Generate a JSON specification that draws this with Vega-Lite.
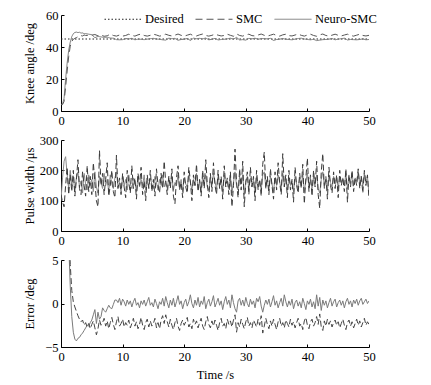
{
"$schema": "https://vega.github.io/schema/vega-lite/v6.json",
"background": "white",
"padding": {"left": 22, "top": 0, "right": 10, "bottom": 5},
"spacing": 29,
"bounds": "flush",
"config": {
  "view": {"stroke": null},
  "font": "Liberation Serif",
  "axis": {"grid": false, "domainColor": "#000", "tickColor": "#000", "tickSize": -3, "labelPadding": 6, "labelFontSize": 12.5, "titleFontSize": 12.5, "labelColor": "#000", "titleColor": "#000", "titleFontWeight": "normal", "labelFont": "Liberation Serif", "titleFont": "Liberation Serif", "labelFlush": false, "labelOverlap": false}
},
"datasets": {
"kd": [{"t":0,"v":45},{"t":50,"v":45}],
"ks": [{"t":0,"v":4},{"t":0.25,"v":4},{"t":0.5,"v":6},{"t":0.75,"v":15},{"t":1,"v":25},{"t":1.25,"v":34},{"t":1.5,"v":40.5},{"t":1.75,"v":43.5},{"t":2,"v":44.8},{"t":2.25,"v":45.4},{"t":2.5,"v":45.9},{"t":2.75,"v":46.4},{"t":3,"v":46.8},{"t":3.25,"v":47.1},{"t":3.5,"v":46.9},{"t":3.75,"v":47.5},{"t":4,"v":47.2},{"t":4.5,"v":47.3},{"t":5,"v":47.4},{"t":5.5,"v":47.8},{"t":6,"v":47.0},{"t":6.5,"v":47.5},{"t":7,"v":46.7},{"t":7.5,"v":47.0},{"t":8,"v":48.0},{"t":8.5,"v":47.2},{"t":9,"v":46.8},{"t":9.5,"v":47.5},{"t":10,"v":46.8},{"t":10.5,"v":47.2},{"t":11,"v":48.0},{"t":11.5,"v":47.3},{"t":12,"v":46.8},{"t":12.5,"v":47.6},{"t":13,"v":48.1},{"t":13.5,"v":47.2},{"t":14,"v":46.8},{"t":14.5,"v":47.3},{"t":15,"v":48.0},{"t":15.5,"v":47.5},{"t":16,"v":46.8},{"t":16.5,"v":47.2},{"t":17,"v":48.0},{"t":17.5,"v":47.3},{"t":18,"v":46.9},{"t":18.5,"v":47.4},{"t":19,"v":48.1},{"t":19.5,"v":47.3},{"t":20,"v":46.8},{"t":20.5,"v":47.4},{"t":21,"v":48.0},{"t":21.5,"v":47.1},{"t":22,"v":46.9},{"t":22.5,"v":47.6},{"t":23,"v":48.1},{"t":23.5,"v":47.2},{"t":24,"v":46.8},{"t":24.5,"v":47.3},{"t":25,"v":48.0},{"t":25.5,"v":47.4},{"t":26,"v":46.9},{"t":26.5,"v":47.2},{"t":27,"v":48.0},{"t":27.5,"v":47.3},{"t":28,"v":46.7},{"t":28.5,"v":48.2},{"t":29,"v":47.2},{"t":29.5,"v":46.8},{"t":30,"v":47.6},{"t":30.5,"v":48.0},{"t":31,"v":47.1},{"t":31.5,"v":46.9},{"t":32,"v":47.5},{"t":32.5,"v":48.1},{"t":33,"v":47.3},{"t":33.5,"v":46.8},{"t":34,"v":47.4},{"t":34.5,"v":48.0},{"t":35,"v":47.2},{"t":35.5,"v":46.8},{"t":36,"v":47.6},{"t":36.5,"v":48.0},{"t":37,"v":47.1},{"t":37.5,"v":46.9},{"t":38,"v":47.5},{"t":38.5,"v":48.1},{"t":39,"v":47.3},{"t":39.5,"v":46.8},{"t":40,"v":47.5},{"t":40.5,"v":48.0},{"t":41,"v":47.2},{"t":41.5,"v":46.7},{"t":42,"v":47.6},{"t":42.5,"v":48.1},{"t":43,"v":47.2},{"t":43.5,"v":46.8},{"t":44,"v":47.4},{"t":44.5,"v":48.0},{"t":45,"v":47.3},{"t":45.5,"v":46.9},{"t":46,"v":47.5},{"t":46.5,"v":48.0},{"t":47,"v":47.2},{"t":47.5,"v":46.8},{"t":48,"v":47.4},{"t":48.5,"v":48.0},{"t":49,"v":47.2},{"t":49.5,"v":46.9},{"t":50,"v":47.3}],
"kn": [{"t":0,"v":4},{"t":0.25,"v":4.5},{"t":0.5,"v":8},{"t":0.75,"v":20},{"t":1,"v":30},{"t":1.25,"v":38},{"t":1.5,"v":43},{"t":1.75,"v":46.5},{"t":2,"v":48.3},{"t":2.25,"v":49.1},{"t":2.5,"v":49.3},{"t":2.75,"v":49.0},{"t":3,"v":49.2},{"t":3.25,"v":48.7},{"t":3.5,"v":48.8},{"t":3.75,"v":48.3},{"t":4,"v":48.4},{"t":4.5,"v":48.0},{"t":5,"v":47.7},{"t":5.5,"v":45.8},{"t":6,"v":46.6},{"t":6.5,"v":46.3},{"t":7,"v":46.0},{"t":7.5,"v":46.1},{"t":8,"v":45.6},{"t":8.5,"v":45.5},{"t":9,"v":44.6},{"t":9.5,"v":44.5},{"t":10,"v":44.6},{"t":10.5,"v":45.3},{"t":11,"v":45.0},{"t":11.5,"v":45.4},{"t":12,"v":44.5},{"t":12.5,"v":44.9},{"t":13,"v":44.8},{"t":13.5,"v":44.6},{"t":14,"v":44.9},{"t":14.5,"v":45.2},{"t":15,"v":45.4},{"t":15.5,"v":45.0},{"t":16,"v":44.8},{"t":16.5,"v":44.5},{"t":17,"v":44.3},{"t":17.5,"v":45.5},{"t":18,"v":45.2},{"t":18.5,"v":45.4},{"t":19,"v":44.2},{"t":19.5,"v":44.7},{"t":20,"v":44.9},{"t":20.5,"v":45.3},{"t":21,"v":44.1},{"t":21.5,"v":45.5},{"t":22,"v":45.2},{"t":22.5,"v":45.4},{"t":23,"v":45.1},{"t":23.5,"v":45.6},{"t":24,"v":44.5},{"t":24.5,"v":44.8},{"t":25,"v":45.4},{"t":25.5,"v":44.4},{"t":26,"v":44.7},{"t":26.5,"v":44.8},{"t":27,"v":45.1},{"t":27.5,"v":45.5},{"t":28,"v":44.9},{"t":28.5,"v":46.0},{"t":29,"v":44.4},{"t":29.5,"v":44.6},{"t":30,"v":44.3},{"t":30.5,"v":45.4},{"t":31,"v":45.1},{"t":31.5,"v":45.5},{"t":32,"v":44.8},{"t":32.5,"v":45.3},{"t":33,"v":45.2},{"t":33.5,"v":45.1},{"t":34,"v":45.4},{"t":34.5,"v":44.1},{"t":35,"v":44.7},{"t":35.5,"v":44.9},{"t":36,"v":45.3},{"t":36.5,"v":44.8},{"t":37,"v":44.7},{"t":37.5,"v":44.5},{"t":38,"v":44.9},{"t":38.5,"v":45.3},{"t":39,"v":45.5},{"t":39.5,"v":45.0},{"t":40,"v":44.7},{"t":40.5,"v":44.5},{"t":41,"v":44.8},{"t":41.5,"v":44.0},{"t":42,"v":44.3},{"t":42.5,"v":44.6},{"t":43,"v":44.7},{"t":43.5,"v":44.9},{"t":44,"v":45.3},{"t":44.5,"v":44.5},{"t":45,"v":44.9},{"t":45.5,"v":45.2},{"t":46,"v":45.5},{"t":46.5,"v":44.4},{"t":47,"v":44.7},{"t":47.5,"v":44.6},{"t":48,"v":44.5},{"t":48.5,"v":44.7},{"t":49,"v":45.1},{"t":49.5,"v":44.5},{"t":50,"v":44.7}],
"ps": [{"t":0,"v":120},{"t":0.25,"v":95},{"t":0.5,"v":80},{"t":0.75,"v":150},{"t":1,"v":210},{"t":1.25,"v":120},{"t":1.5,"v":185},{"t":1.75,"v":130},{"t":2,"v":200},{"t":2.25,"v":115},{"t":2.5,"v":170},{"t":2.75,"v":235},{"t":3,"v":140},{"t":3.25,"v":120},{"t":3.5,"v":195},{"t":3.75,"v":150},{"t":4,"v":115},{"t":4.25,"v":215},{"t":4.5,"v":130},{"t":4.75,"v":180},{"t":5,"v":120},{"t":5.25,"v":225},{"t":5.5,"v":160},{"t":5.75,"v":100},{"t":6,"v":80},{"t":6.25,"v":265},{"t":6.5,"v":150},{"t":6.75,"v":190},{"t":7,"v":120},{"t":7.25,"v":170},{"t":7.5,"v":225},{"t":7.75,"v":115},{"t":8,"v":150},{"t":8.25,"v":200},{"t":8.5,"v":130},{"t":8.75,"v":110},{"t":9,"v":250},{"t":9.25,"v":140},{"t":9.5,"v":175},{"t":9.75,"v":120},{"t":10,"v":190},{"t":10.25,"v":145},{"t":10.5,"v":110},{"t":10.75,"v":200},{"t":11,"v":160},{"t":11.25,"v":125},{"t":11.5,"v":215},{"t":11.75,"v":140},{"t":12,"v":175},{"t":12.25,"v":105},{"t":12.5,"v":190},{"t":12.75,"v":150},{"t":13,"v":210},{"t":13.25,"v":120},{"t":13.5,"v":165},{"t":13.75,"v":100},{"t":14,"v":185},{"t":14.25,"v":140},{"t":14.5,"v":200},{"t":14.75,"v":130},{"t":15,"v":170},{"t":15.25,"v":115},{"t":15.5,"v":205},{"t":15.75,"v":150},{"t":16,"v":125},{"t":16.25,"v":190},{"t":16.5,"v":140},{"t":16.75,"v":230},{"t":17,"v":160},{"t":17.25,"v":120},{"t":17.5,"v":180},{"t":17.75,"v":140},{"t":18,"v":205},{"t":18.25,"v":115},{"t":18.5,"v":90},{"t":18.75,"v":175},{"t":19,"v":215},{"t":19.25,"v":135},{"t":19.5,"v":160},{"t":19.75,"v":110},{"t":20,"v":195},{"t":20.25,"v":145},{"t":20.5,"v":125},{"t":20.75,"v":210},{"t":21,"v":165},{"t":21.25,"v":100},{"t":21.5,"v":185},{"t":21.75,"v":150},{"t":22,"v":220},{"t":22.25,"v":130},{"t":22.5,"v":170},{"t":22.75,"v":115},{"t":23,"v":200},{"t":23.25,"v":140},{"t":23.5,"v":235},{"t":23.75,"v":155},{"t":24,"v":110},{"t":24.25,"v":190},{"t":24.5,"v":130},{"t":24.75,"v":225},{"t":25,"v":150},{"t":25.25,"v":120},{"t":25.5,"v":200},{"t":25.75,"v":140},{"t":26,"v":180},{"t":26.25,"v":105},{"t":26.5,"v":215},{"t":26.75,"v":145},{"t":27,"v":175},{"t":27.25,"v":120},{"t":27.5,"v":195},{"t":27.75,"v":80},{"t":28,"v":150},{"t":28.25,"v":270},{"t":28.5,"v":160},{"t":28.75,"v":110},{"t":29,"v":205},{"t":29.25,"v":135},{"t":29.5,"v":230},{"t":29.75,"v":80},{"t":30,"v":160},{"t":30.25,"v":195},{"t":30.5,"v":120},{"t":30.75,"v":210},{"t":31,"v":145},{"t":31.25,"v":180},{"t":31.5,"v":100},{"t":31.75,"v":200},{"t":32,"v":135},{"t":32.25,"v":170},{"t":32.5,"v":115},{"t":32.75,"v":220},{"t":33,"v":260},{"t":33.25,"v":140},{"t":33.5,"v":180},{"t":33.75,"v":120},{"t":34,"v":205},{"t":34.25,"v":150},{"t":34.5,"v":105},{"t":34.75,"v":195},{"t":35,"v":135},{"t":35.25,"v":225},{"t":35.5,"v":160},{"t":35.75,"v":120},{"t":36,"v":255},{"t":36.25,"v":145},{"t":36.5,"v":185},{"t":36.75,"v":110},{"t":37,"v":200},{"t":37.25,"v":135},{"t":37.5,"v":170},{"t":37.75,"v":95},{"t":38,"v":210},{"t":38.25,"v":150},{"t":38.5,"v":125},{"t":38.75,"v":190},{"t":39,"v":140},{"t":39.25,"v":220},{"t":39.5,"v":90},{"t":39.75,"v":175},{"t":40,"v":240},{"t":40.25,"v":130},{"t":40.5,"v":185},{"t":40.75,"v":115},{"t":41,"v":200},{"t":41.25,"v":145},{"t":41.5,"v":230},{"t":41.75,"v":120},{"t":42,"v":75},{"t":42.25,"v":195},{"t":42.5,"v":255},{"t":42.75,"v":140},{"t":43,"v":180},{"t":43.25,"v":105},{"t":43.5,"v":210},{"t":43.75,"v":150},{"t":44,"v":125},{"t":44.25,"v":195},{"t":44.5,"v":140},{"t":44.75,"v":185},{"t":45,"v":110},{"t":45.25,"v":200},{"t":45.5,"v":150},{"t":45.75,"v":175},{"t":46,"v":130},{"t":46.25,"v":205},{"t":46.5,"v":95},{"t":46.75,"v":185},{"t":47,"v":145},{"t":47.25,"v":200},{"t":47.5,"v":130},{"t":47.75,"v":175},{"t":48,"v":150},{"t":48.25,"v":205},{"t":48.5,"v":140},{"t":48.75,"v":180},{"t":49,"v":125},{"t":49.25,"v":200},{"t":49.5,"v":150},{"t":49.75,"v":185},{"t":50,"v":105}],
"pn": [{"t":0,"v":100},{"t":0.25,"v":175},{"t":0.5,"v":230},{"t":0.75,"v":245},{"t":1,"v":185},{"t":1.25,"v":140},{"t":1.5,"v":200},{"t":1.75,"v":150},{"t":2,"v":180},{"t":2.25,"v":130},{"t":2.5,"v":175},{"t":2.75,"v":195},{"t":3,"v":145},{"t":3.25,"v":165},{"t":3.5,"v":125},{"t":3.75,"v":190},{"t":4,"v":155},{"t":4.25,"v":135},{"t":4.5,"v":185},{"t":4.75,"v":150},{"t":5,"v":170},{"t":5.25,"v":130},{"t":5.5,"v":195},{"t":5.75,"v":145},{"t":6,"v":125},{"t":6.25,"v":180},{"t":6.5,"v":160},{"t":6.75,"v":140},{"t":7,"v":190},{"t":7.25,"v":150},{"t":7.5,"v":170},{"t":7.75,"v":130},{"t":8,"v":185},{"t":8.25,"v":155},{"t":8.5,"v":140},{"t":8.75,"v":175},{"t":9,"v":195},{"t":9.25,"v":145},{"t":9.5,"v":160},{"t":9.75,"v":130},{"t":10,"v":180},{"t":10.25,"v":150},{"t":10.5,"v":170},{"t":10.75,"v":135},{"t":11,"v":185},{"t":11.25,"v":155},{"t":11.5,"v":140},{"t":11.75,"v":175},{"t":12,"v":160},{"t":12.25,"v":130},{"t":12.5,"v":180},{"t":12.75,"v":145},{"t":13,"v":170},{"t":13.25,"v":150},{"t":13.5,"v":185},{"t":13.75,"v":135},{"t":14,"v":165},{"t":14.25,"v":145},{"t":14.5,"v":175},{"t":14.75,"v":155},{"t":15,"v":140},{"t":15.25,"v":180},{"t":15.5,"v":160},{"t":15.75,"v":135},{"t":16,"v":170},{"t":16.25,"v":150},{"t":16.5,"v":185},{"t":16.75,"v":145},{"t":17,"v":165},{"t":17.25,"v":140},{"t":17.5,"v":175},{"t":17.75,"v":155},{"t":18,"v":180},{"t":18.25,"v":135},{"t":18.5,"v":160},{"t":18.75,"v":150},{"t":19,"v":185},{"t":19.25,"v":140},{"t":19.5,"v":170},{"t":19.75,"v":130},{"t":20,"v":175},{"t":20.25,"v":155},{"t":20.5,"v":145},{"t":20.75,"v":185},{"t":21,"v":160},{"t":21.25,"v":135},{"t":21.5,"v":170},{"t":21.75,"v":150},{"t":22,"v":190},{"t":22.25,"v":140},{"t":22.5,"v":165},{"t":22.75,"v":130},{"t":23,"v":180},{"t":23.25,"v":155},{"t":23.5,"v":185},{"t":23.75,"v":145},{"t":24,"v":135},{"t":24.25,"v":175},{"t":24.5,"v":150},{"t":24.75,"v":190},{"t":25,"v":160},{"t":25.25,"v":140},{"t":25.5,"v":180},{"t":25.75,"v":150},{"t":26,"v":170},{"t":26.25,"v":130},{"t":26.5,"v":185},{"t":26.75,"v":155},{"t":27,"v":165},{"t":27.25,"v":140},{"t":27.5,"v":180},{"t":27.75,"v":125},{"t":28,"v":160},{"t":28.25,"v":195},{"t":28.5,"v":150},{"t":28.75,"v":135},{"t":29,"v":180},{"t":29.25,"v":155},{"t":29.5,"v":185},{"t":29.75,"v":120},{"t":30,"v":165},{"t":30.25,"v":180},{"t":30.5,"v":140},{"t":30.75,"v":175},{"t":31,"v":150},{"t":31.25,"v":170},{"t":31.5,"v":130},{"t":31.75,"v":180},{"t":32,"v":150},{"t":32.25,"v":165},{"t":32.5,"v":135},{"t":32.75,"v":185},{"t":33,"v":195},{"t":33.25,"v":145},{"t":33.5,"v":170},{"t":33.75,"v":135},{"t":34,"v":180},{"t":34.25,"v":155},{"t":34.5,"v":130},{"t":34.75,"v":175},{"t":35,"v":150},{"t":35.25,"v":185},{"t":35.5,"v":160},{"t":35.75,"v":140},{"t":36,"v":190},{"t":36.25,"v":150},{"t":36.5,"v":170},{"t":36.75,"v":135},{"t":37,"v":175},{"t":37.25,"v":150},{"t":37.5,"v":165},{"t":37.75,"v":130},{"t":38,"v":180},{"t":38.25,"v":155},{"t":38.5,"v":140},{"t":38.75,"v":175},{"t":39,"v":150},{"t":39.25,"v":185},{"t":39.5,"v":130},{"t":39.75,"v":165},{"t":40,"v":190},{"t":40.25,"v":145},{"t":40.5,"v":170},{"t":40.75,"v":140},{"t":41,"v":180},{"t":41.25,"v":155},{"t":41.5,"v":185},{"t":41.75,"v":140},{"t":42,"v":125},{"t":42.25,"v":170},{"t":42.5,"v":195},{"t":42.75,"v":150},{"t":43,"v":170},{"t":43.25,"v":135},{"t":43.5,"v":185},{"t":43.75,"v":160},{"t":44,"v":145},{"t":44.25,"v":180},{"t":44.5,"v":155},{"t":44.75,"v":175},{"t":45,"v":140},{"t":45.25,"v":180},{"t":45.5,"v":160},{"t":45.75,"v":175},{"t":46,"v":150},{"t":46.25,"v":190},{"t":46.5,"v":140},{"t":46.75,"v":180},{"t":47,"v":160},{"t":47.25,"v":190},{"t":47.5,"v":150},{"t":47.75,"v":175},{"t":48,"v":165},{"t":48.25,"v":195},{"t":48.5,"v":155},{"t":48.75,"v":180},{"t":49,"v":150},{"t":49.25,"v":190},{"t":49.5,"v":160},{"t":49.75,"v":180},{"t":50,"v":120}],
"es": [{"t":0,"v":41},{"t":0.25,"v":41},{"t":0.5,"v":39},{"t":0.75,"v":30},{"t":1,"v":20},{"t":1.25,"v":11},{"t":1.5,"v":4.5},{"t":1.75,"v":1.5},{"t":2,"v":0.2},{"t":2.25,"v":-0.4},{"t":2.5,"v":-0.9},{"t":2.75,"v":-1.4},{"t":3,"v":-1.8},{"t":3.25,"v":-2.1},{"t":3.5,"v":-1.9},{"t":3.75,"v":-2.5},{"t":4,"v":-2.2},{"t":4.25,"v":-2.7},{"t":4.5,"v":-2.3},{"t":4.75,"v":-2.9},{"t":5,"v":-2.4},{"t":5.25,"v":-2.0},{"t":5.5,"v":-2.8},{"t":5.75,"v":-3.6},{"t":6,"v":-2.9},{"t":6.25,"v":-1.9},{"t":6.5,"v":-2.5},{"t":6.75,"v":-2.2},{"t":7,"v":-1.7},{"t":7.25,"v":-2.6},{"t":7.5,"v":-2.0},{"t":7.75,"v":-2.9},{"t":8,"v":-2.2},{"t":8.25,"v":-1.6},{"t":8.5,"v":-2.4},{"t":8.75,"v":-3.0},{"t":9,"v":-2.1},{"t":9.25,"v":-1.5},{"t":9.5,"v":-2.6},{"t":9.75,"v":-2.3},{"t":10,"v":-1.8},{"t":10.25,"v":-2.7},{"t":10.5,"v":-2.2},{"t":10.75,"v":-2.5},{"t":11,"v":-1.9},{"t":11.25,"v":-2.8},{"t":11.5,"v":-2.3},{"t":11.75,"v":-1.7},{"t":12,"v":-2.6},{"t":12.25,"v":-2.1},{"t":12.5,"v":-2.9},{"t":12.75,"v":-2.4},{"t":13,"v":-1.6},{"t":13.25,"v":-2.5},{"t":13.5,"v":-3.0},{"t":13.75,"v":-2.2},{"t":14,"v":-1.8},{"t":14.25,"v":-2.7},{"t":14.5,"v":-2.0},{"t":14.75,"v":-2.6},{"t":15,"v":-2.3},{"t":15.25,"v":-1.7},{"t":15.5,"v":-2.8},{"t":15.75,"v":-2.2},{"t":16,"v":-2.9},{"t":16.25,"v":-1.9},{"t":16.5,"v":-1.4},{"t":16.75,"v":-2.3},{"t":17,"v":-1.3},{"t":17.25,"v":-2.1},{"t":17.5,"v":-2.7},{"t":17.75,"v":-1.8},{"t":18,"v":-2.5},{"t":18.25,"v":-3.0},{"t":18.5,"v":-2.2},{"t":18.75,"v":-1.7},{"t":19,"v":-2.6},{"t":19.25,"v":-3.1},{"t":19.5,"v":-2.3},{"t":19.75,"v":-1.9},{"t":20,"v":-2.5},{"t":20.25,"v":-2.1},{"t":20.5,"v":-1.6},{"t":20.75,"v":-2.7},{"t":21,"v":-2.3},{"t":21.25,"v":-2.9},{"t":21.5,"v":-1.8},{"t":21.75,"v":-2.4},{"t":22,"v":-2.0},{"t":22.25,"v":-2.8},{"t":22.5,"v":-2.2},{"t":22.75,"v":-1.7},{"t":23,"v":-2.6},{"t":23.25,"v":-3.0},{"t":23.5,"v":-2.1},{"t":23.75,"v":-1.5},{"t":24,"v":-2.4},{"t":24.25,"v":-2.8},{"t":24.5,"v":-2.0},{"t":24.75,"v":-2.6},{"t":25,"v":-1.9},{"t":25.25,"v":-2.5},{"t":25.5,"v":-3.1},{"t":25.75,"v":-2.2},{"t":26,"v":-1.7},{"t":26.25,"v":-2.6},{"t":26.5,"v":-2.3},{"t":26.75,"v":-2.9},{"t":27,"v":-1.8},{"t":27.25,"v":-2.4},{"t":27.5,"v":-2.0},{"t":27.75,"v":-2.7},{"t":28,"v":-1.9},{"t":28.25,"v":-1.3},{"t":28.5,"v":-3.3},{"t":28.75,"v":-2.2},{"t":29,"v":-2.7},{"t":29.25,"v":-1.8},{"t":29.5,"v":-2.4},{"t":29.75,"v":-2.9},{"t":30,"v":-2.1},{"t":30.25,"v":-1.6},{"t":30.5,"v":-2.6},{"t":30.75,"v":-2.2},{"t":31,"v":-2.8},{"t":31.25,"v":-1.9},{"t":31.5,"v":-2.3},{"t":31.75,"v":-2.7},{"t":32,"v":-1.8},{"t":32.25,"v":-2.5},{"t":32.5,"v":-1.4},{"t":32.75,"v":-3.4},{"t":33,"v":-2.6},{"t":33.25,"v":-1.7},{"t":33.5,"v":-2.4},{"t":33.75,"v":-2.9},{"t":34,"v":-2.0},{"t":34.25,"v":-2.6},{"t":34.5,"v":-1.8},{"t":34.75,"v":-2.4},{"t":35,"v":-3.0},{"t":35.25,"v":-2.1},{"t":35.5,"v":-1.7},{"t":35.75,"v":-2.6},{"t":36,"v":-2.2},{"t":36.25,"v":-2.8},{"t":36.5,"v":-1.9},{"t":36.75,"v":-2.3},{"t":37,"v":-2.7},{"t":37.25,"v":-1.8},{"t":37.5,"v":-2.5},{"t":37.75,"v":-2.1},{"t":38,"v":-2.8},{"t":38.25,"v":-2.2},{"t":38.5,"v":-1.7},{"t":38.75,"v":-2.6},{"t":39,"v":-2.3},{"t":39.25,"v":-3.0},{"t":39.5,"v":-2.0},{"t":39.75,"v":-1.6},{"t":40,"v":-2.5},{"t":40.25,"v":-2.9},{"t":40.5,"v":-2.1},{"t":40.75,"v":-1.8},{"t":41,"v":-2.6},{"t":41.25,"v":-2.2},{"t":41.5,"v":-1.5},{"t":41.75,"v":-2.4},{"t":42,"v":-1.2},{"t":42.25,"v":-2.7},{"t":42.5,"v":-3.1},{"t":42.75,"v":-2.0},{"t":43,"v":-2.6},{"t":43.25,"v":-1.8},{"t":43.5,"v":-2.4},{"t":43.75,"v":-2.0},{"t":44,"v":-2.7},{"t":44.25,"v":-2.2},{"t":44.5,"v":-1.9},{"t":44.75,"v":-2.5},{"t":45,"v":-2.1},{"t":45.25,"v":-2.8},{"t":45.5,"v":-2.3},{"t":45.75,"v":-1.8},{"t":46,"v":-2.5},{"t":46.25,"v":-3.0},{"t":46.5,"v":-2.2},{"t":46.75,"v":-1.9},{"t":47,"v":-2.6},{"t":47.25,"v":-2.1},{"t":47.5,"v":-2.8},{"t":47.75,"v":-2.3},{"t":48,"v":-1.8},{"t":48.25,"v":-2.5},{"t":48.5,"v":-2.0},{"t":48.75,"v":-2.7},{"t":49,"v":-2.2},{"t":49.25,"v":-1.7},{"t":49.5,"v":-2.5},{"t":49.75,"v":-2.1},{"t":50,"v":-2.4}],
"en": [{"t":0,"v":41},{"t":0.25,"v":40.5},{"t":0.5,"v":37},{"t":0.75,"v":25},{"t":1,"v":15},{"t":1.25,"v":7},{"t":1.5,"v":2},{"t":1.75,"v":-1.5},{"t":2,"v":-3.3},{"t":2.25,"v":-4.1},{"t":2.5,"v":-4.3},{"t":2.75,"v":-4.0},{"t":3,"v":-3.9},{"t":3.25,"v":-3.6},{"t":3.5,"v":-3.4},{"t":3.75,"v":-3.1},{"t":4,"v":-2.8},{"t":4.25,"v":-2.5},{"t":4.5,"v":-2.6},{"t":4.75,"v":-2.2},{"t":5,"v":-1.9},{"t":5.25,"v":-1.3},{"t":5.5,"v":-0.7},{"t":5.75,"v":-2.3},{"t":6,"v":-1.0},{"t":6.25,"v":-1.8},{"t":6.5,"v":-1.5},{"t":6.75,"v":-0.5},{"t":7,"v":-0.8},{"t":7.25,"v":-1.0},{"t":7.5,"v":-0.6},{"t":7.75,"v":-0.2},{"t":8,"v":-0.5},{"t":8.25,"v":-0.6},{"t":8.5,"v":-0.1},{"t":8.75,"v":0.4},{"t":9,"v":0.4},{"t":9.25,"v":0.1},{"t":9.5,"v":0.6},{"t":9.75,"v":-0.2},{"t":10,"v":0.5},{"t":10.25,"v":0.2},{"t":10.5,"v":-0.3},{"t":10.75,"v":0.4},{"t":11,"v":-0.1},{"t":11.25,"v":0.3},{"t":11.5,"v":-0.4},{"t":11.75,"v":0.2},{"t":12,"v":0.6},{"t":12.25,"v":-0.2},{"t":12.5,"v":0.1},{"t":12.75,"v":-0.5},{"t":13,"v":0.3},{"t":13.25,"v":-0.1},{"t":13.5,"v":0.4},{"t":13.75,"v":-0.3},{"t":14,"v":0.2},{"t":14.25,"v":0.7},{"t":14.5,"v":-0.2},{"t":14.75,"v":0.1},{"t":15,"v":-0.4},{"t":15.25,"v":0.5},{"t":15.5,"v":0.0},{"t":15.75,"v":-0.6},{"t":16,"v":0.2},{"t":16.25,"v":-0.1},{"t":16.5,"v":0.6},{"t":16.75,"v":-0.3},{"t":17,"v":0.8},{"t":17.25,"v":0.1},{"t":17.5,"v":-0.5},{"t":17.75,"v":0.4},{"t":18,"v":-0.2},{"t":18.25,"v":0.6},{"t":18.5,"v":-0.4},{"t":18.75,"v":0.2},{"t":19,"v":0.9},{"t":19.25,"v":-0.1},{"t":19.5,"v":0.3},{"t":19.75,"v":-0.6},{"t":20,"v":0.1},{"t":20.25,"v":0.5},{"t":20.5,"v":-0.3},{"t":20.75,"v":0.2},{"t":21,"v":1.0},{"t":21.25,"v":0.0},{"t":21.5,"v":-0.5},{"t":21.75,"v":0.4},{"t":22,"v":-0.2},{"t":22.25,"v":0.7},{"t":22.5,"v":-0.4},{"t":22.75,"v":0.3},{"t":23,"v":-0.1},{"t":23.25,"v":0.8},{"t":23.5,"v":-0.6},{"t":23.75,"v":0.1},{"t":24,"v":0.5},{"t":24.25,"v":-0.3},{"t":24.5,"v":0.2},{"t":24.75,"v":0.9},{"t":25,"v":-0.4},{"t":25.25,"v":0.1},{"t":25.5,"v":0.6},{"t":25.75,"v":-0.2},{"t":26,"v":0.3},{"t":26.25,"v":-0.7},{"t":26.5,"v":0.2},{"t":26.75,"v":0.8},{"t":27,"v":-0.1},{"t":27.25,"v":0.4},{"t":27.5,"v":-0.5},{"t":27.75,"v":1.0},{"t":28,"v":0.1},{"t":28.25,"v":-0.6},{"t":28.5,"v":-1.0},{"t":28.75,"v":0.3},{"t":29,"v":0.6},{"t":29.25,"v":-0.2},{"t":29.5,"v":0.4},{"t":29.75,"v":-0.3},{"t":30,"v":0.7},{"t":30.25,"v":0.0},{"t":30.5,"v":-0.4},{"t":30.75,"v":0.5},{"t":31,"v":-0.1},{"t":31.25,"v":0.3},{"t":31.5,"v":-0.5},{"t":31.75,"v":0.6},{"t":32,"v":0.2},{"t":32.25,"v":0.8},{"t":32.5,"v":-0.3},{"t":32.75,"v":-1.0},{"t":33,"v":-0.2},{"t":33.25,"v":0.4},{"t":33.5,"v":-0.1},{"t":33.75,"v":0.5},{"t":34,"v":-0.4},{"t":34.25,"v":0.2},{"t":34.5,"v":0.9},{"t":34.75,"v":-0.2},{"t":35,"v":0.3},{"t":35.25,"v":-0.5},{"t":35.5,"v":0.1},{"t":35.75,"v":0.6},{"t":36,"v":-0.3},{"t":36.25,"v":1.0},{"t":36.5,"v":0.2},{"t":36.75,"v":-0.4},{"t":37,"v":0.3},{"t":37.25,"v":-0.2},{"t":37.5,"v":0.5},{"t":37.75,"v":-0.6},{"t":38,"v":0.1},{"t":38.25,"v":0.4},{"t":38.5,"v":-0.3},{"t":38.75,"v":0.2},{"t":39,"v":-0.5},{"t":39.25,"v":0.6},{"t":39.5,"v":0.0},{"t":39.75,"v":-0.7},{"t":40,"v":0.3},{"t":40.25,"v":-0.1},{"t":40.5,"v":0.5},{"t":40.75,"v":-0.4},{"t":41,"v":0.2},{"t":41.25,"v":-0.6},{"t":41.5,"v":1.0},{"t":41.75,"v":-0.3},{"t":42,"v":0.7},{"t":42.25,"v":-0.8},{"t":42.5,"v":0.4},{"t":42.75,"v":-0.2},{"t":43,"v":0.3},{"t":43.25,"v":-0.5},{"t":43.5,"v":0.1},{"t":43.75,"v":0.6},{"t":44,"v":-0.3},{"t":44.25,"v":0.2},{"t":44.5,"v":0.5},{"t":44.75,"v":-0.4},{"t":45,"v":0.1},{"t":45.25,"v":0.4},{"t":45.5,"v":-0.2},{"t":45.75,"v":0.3},{"t":46,"v":-0.5},{"t":46.25,"v":0.2},{"t":46.5,"v":0.6},{"t":46.75,"v":-0.1},{"t":47,"v":0.3},{"t":47.25,"v":-0.4},{"t":47.5,"v":0.4},{"t":47.75,"v":0.0},{"t":48,"v":0.5},{"t":48.25,"v":-0.2},{"t":48.5,"v":0.3},{"t":48.75,"v":0.6},{"t":49,"v":-0.1},{"t":49.25,"v":0.2},{"t":49.5,"v":0.5},{"t":49.75,"v":0.0},{"t":50,"v":0.3}]
},
"vconcat": [
{
  "width": 308, "height": 96,
  "encoding": {
    "x": {"field": "t", "type": "quantitative", "scale": {"domain": [0, 50], "nice": false}, "axis": {"values": [0,10,20,30,40,50], "title": null}},
    "y": {"field": "v", "type": "quantitative", "scale": {"domain": [0, 60], "nice": false}, "axis": {"values": [0,20,40,60], "title": "Knee angle /deg", "titleX": -28, "titleBaseline": "alphabetic"}}
  },
  "layer": [
    {"data": {"name": "kd"}, "mark": {"type": "line", "strokeWidth": 1, "clip": true},
     "encoding": {
       "color": {"datum": "Desired", "scale": {"domain": ["Desired","SMC","Neuro-SMC"], "range": ["#222222","#555555","#777777"]}, "legend": {"orient": "none", "legendX": 43, "legendY": -15, "direction": "horizontal", "title": null, "symbolType": "stroke", "symbolSize": 1369, "symbolStrokeWidth": 1, "labelFontSize": 12.5, "labelFont": "Liberation Serif", "labelColor": "#000", "labelOffset": 3, "columnPadding": 9, "padding": 0}},
       "strokeDash": {"datum": "Desired", "scale": {"domain": ["Desired","SMC","Neuro-SMC"], "range": [[1.5,2],[7,4],[1,0]]}, "legend": {"orient": "none", "legendX": 43, "legendY": -15, "direction": "horizontal", "title": null, "symbolType": "stroke", "symbolSize": 1369, "symbolStrokeWidth": 1, "labelFontSize": 12.5, "labelFont": "Liberation Serif", "labelColor": "#000", "labelOffset": 3, "columnPadding": 9, "padding": 0}}
     }},
    {"data": {"name": "kn"}, "mark": {"type": "line", "strokeWidth": 1, "clip": true},
     "encoding": {"color": {"datum": "Neuro-SMC"}, "strokeDash": {"datum": "Neuro-SMC"}}},
    {"data": {"name": "ks"}, "mark": {"type": "line", "strokeWidth": 1, "clip": true},
     "encoding": {"color": {"datum": "SMC"}, "strokeDash": {"datum": "SMC"}}}
  ]
},
{
  "width": 308, "height": 91,
  "encoding": {
    "x": {"field": "t", "type": "quantitative", "scale": {"domain": [0, 50], "nice": false}, "axis": {"values": [0,10,20,30,40,50], "title": null}},
    "y": {"field": "v", "type": "quantitative", "scale": {"domain": [0, 300], "nice": false}, "axis": {"values": [0,100,200,300], "title": "Pulse width /μs", "titleX": -28, "titleBaseline": "alphabetic"}}
  },
  "layer": [
    {"data": {"name": "pn"}, "mark": {"type": "line", "strokeWidth": 1, "color": "#8a8a8a", "clip": true}},
    {"data": {"name": "ps"}, "mark": {"type": "line", "strokeWidth": 1, "color": "#3a3a3a", "strokeDash": [6,3], "clip": true}}
  ]
},
{
  "width": 308, "height": 87,
  "encoding": {
    "x": {"field": "t", "type": "quantitative", "scale": {"domain": [0, 50], "nice": false}, "axis": {"values": [0,10,20,30,40,50], "title": "Time /s", "titlePadding": 6}},
    "y": {"field": "v", "type": "quantitative", "scale": {"domain": [-5, 5], "nice": false}, "axis": {"values": [-5,0,5], "title": "Error /deg", "titleX": -28, "titleBaseline": "alphabetic"}}
  },
  "layer": [
    {"data": {"name": "en"}, "mark": {"type": "line", "strokeWidth": 1, "color": "#7a7a7a", "clip": true}},
    {"data": {"name": "es"}, "mark": {"type": "line", "strokeWidth": 1, "color": "#444444", "strokeDash": [6,3], "clip": true}}
  ]
}
]
}
